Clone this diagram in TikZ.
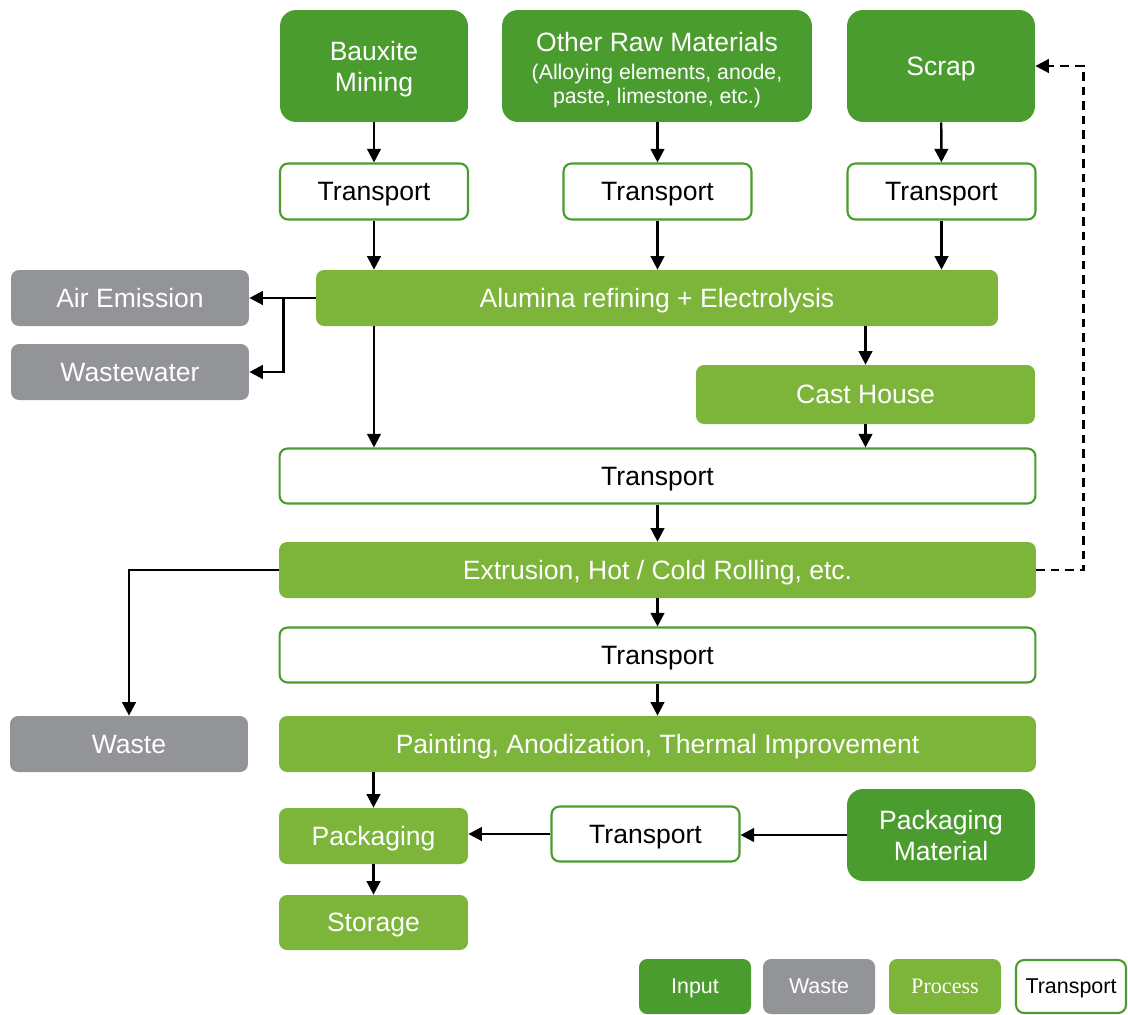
\documentclass[tikz,border=0pt]{standalone}
\usepackage{fontspec}
\setmainfont{Liberation Sans}
\newfontfamily\serifleg{Liberation Serif}
\usetikzlibrary{arrows.meta}
\definecolor{cinput}{HTML}{4B9C2F}
\definecolor{cproc}{HTML}{7DB43A}
\definecolor{cwaste}{HTML}{929497}
\newcommand{\subtxt}{\fontsize{12.1}{13.6}\selectfont}
\begin{document}
\begin{tikzpicture}[x=0.02cm,y=-0.02cm,
  box/.style={inner sep=0pt, align=center, text depth=0pt, font=\fontsize{15.1}{17.6}\selectfont},
  inputbox/.style={box, fill=cinput, text=white, rounded corners=0.32cm},
  procbox/.style={box, fill=cproc, text=white, rounded corners=0.16cm},
  wastebox/.style={box, fill=cwaste, text=white, rounded corners=0.16cm},
  transbox/.style={box, draw=cinput, line width=1.2pt, fill=white, text=black, rounded corners=0.16cm},
  legbox/.style={font=\fontsize{12.2}{14}\selectfont, minimum width=2.24cm, minimum height=1.1cm},
  arr/.style={line width=1.4pt, -{Triangle[length=0.27cm,width=0.27cm]}},
  dasharr/.style={arr, dash pattern=on 0.17cm off 0.12cm}
]
\useasboundingbox (0,0) rectangle (1128,1014);
% inputs
\node[inputbox, minimum width=3.76cm, minimum height=2.24cm] (bx) at (374,66) {Bauxite\\Mining};
\node[inputbox, minimum width=6.2cm, minimum height=2.24cm] (raw) at (657,66) {};
\node[box, text=white] (rawtxt) at (657,68) {Other Raw Materials\\[-1.7pt]{\subtxt (Alloying elements, anode,}\\[-4pt]{\subtxt paste, limestone, etc.)}};
\node[inputbox, minimum width=3.76cm, minimum height=2.24cm] (scrap) at (941,66) {Scrap};
% transport row 1
\node[transbox, minimum width=3.76cm, minimum height=1.12cm] (t1) at (374,191.5) {Transport};
\node[transbox, minimum width=3.76cm, minimum height=1.12cm] (t2) at (657.5,191.5) {Transport};
\node[transbox, minimum width=3.76cm, minimum height=1.12cm] (t3) at (941.5,191.5) {Transport};
% alumina
\node[procbox, minimum width=13.64cm, minimum height=1.12cm] (alu) at (657,298) {Alumina refining + Electrolysis};
\node[wastebox, minimum width=4.76cm, minimum height=1.12cm] (air) at (130,298) {Air Emission};
\node[wastebox, minimum width=4.76cm, minimum height=1.12cm] (ww) at (130,372) {Wastewater};
\node[procbox, minimum width=6.78cm, minimum height=1.18cm] (ch) at (865.5,394.5) {Cast House};
\node[transbox, minimum width=15.12cm, minimum height=1.1cm] (tb) at (657.5,476) {Transport};
\node[procbox, minimum width=15.14cm, minimum height=1.12cm] (ex) at (657.5,570) {Extrusion, Hot / Cold Rolling, etc.};
\node[transbox, minimum width=15.12cm, minimum height=1.1cm] (tc) at (657.5,655) {Transport};
\node[wastebox, minimum width=4.76cm, minimum height=1.12cm] (waste) at (129,744) {Waste};
\node[procbox, minimum width=15.14cm, minimum height=1.12cm] (paint) at (657.5,744) {Painting, Anodization, Thermal Improvement};
\node[procbox, minimum width=3.78cm, minimum height=1.12cm] (pk) at (373.5,836) {Packaging};
\node[transbox, minimum width=3.76cm, minimum height=1.1cm] (ts) at (645.5,834) {Transport};
\node[inputbox, minimum width=3.76cm, minimum height=1.84cm] (pm) at (941,835) {Packaging\\Material};
\node[procbox, minimum width=3.78cm, minimum height=1.1cm] (st) at (373.5,922.5) {Storage};
% legend
\node[inputbox, legbox, rounded corners=0.16cm] (l1) at (695,986.5) {Input};
\node[wastebox, legbox] (l2) at (819,986.5) {Waste};
\node[procbox, legbox, font=\serifleg\fontsize{12.6}{14}\selectfont] (l3) at (945,986.5) {Process};
\node[transbox, legbox, minimum width=2.2cm, minimum height=1.06cm] (l4) at (1071,986.5) {Transport};
% arrows
\draw[arr] (bx) -- (t1);
\draw[arr] (raw.south -| t2) -- (t2);
\draw[arr] (scrap) -- (t3);
\draw[arr] (t1) -- (t1 |- alu.north);
\draw[arr] (t2) -- (t2 |- alu.north);
\draw[arr] (t3) -- (t3 |- alu.north);
\draw[arr] (alu.west) -- (air.east);
\draw[arr] (alu.west) -- ++(-32,0) |- (ww.east);
\draw[arr] (alu.south -| bx) -- (tb.north -| bx);
\draw[arr] (alu.south -| ch) -- (ch.north);
\draw[arr] (ch.south) -- (tb.north -| ch);
\draw[arr] (tb) -- (ex);
\draw[arr] (ex) -- (tc);
\draw[arr] (tc) -- (paint);
\draw[arr] (ex.west) -| (waste.north);
\draw[dasharr] (ex.east) -- ++(47,0) |- (scrap.east);
\draw[arr] (paint.south -| pk) -- (pk.north);
\draw[arr] (ts.west) -- (ts.west -| pk.east);
\draw[arr] (pm.west) -- (pm.west -| ts.east);
\draw[arr] (pk) -- (st);
\end{tikzpicture}
\end{document}
